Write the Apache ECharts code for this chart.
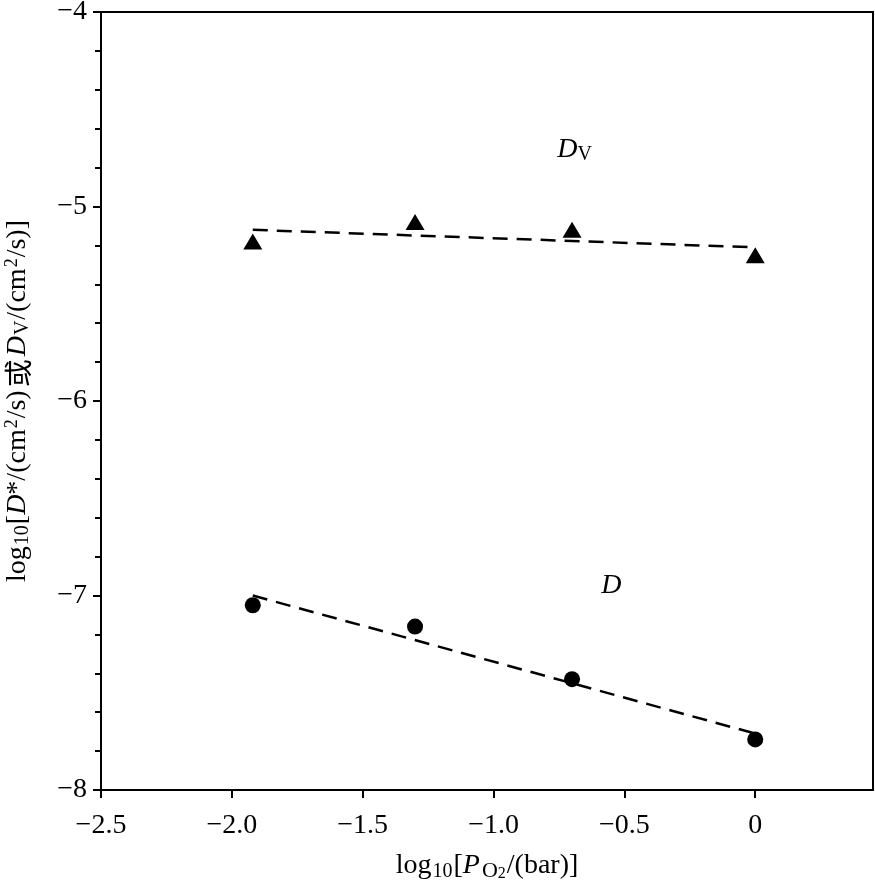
<!DOCTYPE html>
<html>
<head>
<meta charset="utf-8">
<script src="https://cdn.jsdelivr.net/npm/echarts@6/dist/echarts.min.js"></script>
<style>html,body{margin:0;padding:0;background:#fff}#c{width:875px;height:890px}</style>
</head>
<body>
<div id="c"></div>
<script>
// Data
const xTicks = [-2.5, -2.0, -1.5, -1.0, -0.5, 0];
const yTicks = [-8, -7, -6, -5, -4];
const dvX = [-1.92, -1.30, -0.70, 0.0];
const dvY = [-5.18, -5.08, -5.12, -5.25];
const dX = [-1.92, -1.30, -0.70, 0.0];
const dY = [-7.05, -7.16, -7.43, -7.74];
const dvFitX = [-1.92, 0.0];
const dvFitY = [-5.12, -5.21];
const dFitX = [-1.92, 0.0];
const dFitY = [-7.00, -7.71];
const annotX = [-0.69, -0.55];
const annotY = [-4.71, -6.95];
const annotText = ['{i|D}{sub|V}', '{i|D}'];

const FONT = '"Liberation Serif", "Times New Roman", serif';
const minus = s => s.replace('-', '\u2212');
const fmtX = v => minus(v === 0 ? '0' : v.toFixed(1));
const fmtY = v => minus(String(Math.round(v)));
const zip = (a, b) => a.map((v, i) => [v, b[i]]);

const richBase = {
  i: { fontFamily: FONT, fontStyle: 'italic', fontSize: 28, color: '#000' },
  sub: { fontFamily: FONT, fontSize: 20, color: '#000', verticalAlign: 'bottom', padding: [10, 1, 0, 1] },
  sup: { fontFamily: FONT, fontSize: 18, color: '#000', verticalAlign: 'top', padding: [0, 1, 8, 1] },
  cjk: { fontFamily: '"Noto Sans CJK SC", sans-serif', fontSize: 28, color: '#000', padding: [0, 3, 0, 3] }
};

const chart = echarts.init(document.getElementById('c'), null, { renderer: 'canvas' });
chart.setOption({
  animation: false,
  backgroundColor: '#fff',
  grid: { left: 101, right: 2, top: 12, bottom: 100, outerBoundsMode: 'none', containLabel: false, show: true, borderColor: '#000', borderWidth: 2, backgroundColor: 'transparent' },
  xAxis: {
    type: 'value', min: -2.5, max: 0.45, interval: 0.5,
    axisLine: { onZero: false, lineStyle: { color: '#000', width: 2 } },
    axisTick: { customValues: xTicks, length: 8, lineStyle: { color: '#000', width: 2 } },
    axisLabel: { customValues: xTicks, formatter: fmtX, fontFamily: FONT, fontSize: 28, color: '#000', margin: 22 },
    splitLine: { show: false },
    name: 'log{sub|10}[{i|P}{osub|O}{osub2|2}/(bar)]',
    nameLocation: 'middle', nameGap: 60,
    nameTextStyle: {
      fontFamily: FONT, fontSize: 28, color: '#000',
      rich: Object.assign({}, richBase, {
        osub: { fontFamily: FONT, fontSize: 22, color: '#000', verticalAlign: 'bottom', padding: [8, 0, 0, 2] },
        osub2: { fontFamily: FONT, fontSize: 16, color: '#000', verticalAlign: 'bottom', padding: [16, 1, 0, 0] }
      })
    }
  },
  yAxis: {
    type: 'value', min: -8, max: -4, interval: 1,
    axisLine: { onZero: false, lineStyle: { color: '#000', width: 2 } },
    axisTick: { length: 8, lineStyle: { color: '#000', width: 2 } },
    minorTick: { show: true, splitNumber: 5, length: 6, lineStyle: { color: '#000', width: 2 } },
    axisLabel: { formatter: fmtY, fontFamily: FONT, fontSize: 28, color: '#000', margin: 14 },
    splitLine: { show: false },
    name: 'log{sub|10}[{i|D}*/(cm{sup|2}/s){cjk|或}{i|D}{sub|V}/(cm{sup|2}/s)]',
    nameLocation: 'middle', nameGap: 68, nameRotate: 90,
    nameTextStyle: { fontFamily: FONT, fontSize: 28, color: '#000', rich: richBase }
  },
  series: [
    { type: 'line', data: zip(dvFitX, dvFitY), symbol: 'none', lineStyle: { color: '#000', width: 2.5, type: [15, 9] }, z: 2 },
    { type: 'line', data: zip(dFitX, dFitY), symbol: 'none', lineStyle: { color: '#000', width: 2.5, type: [15, 9] }, z: 2 },
    { type: 'scatter', data: zip(dvX, dvY), symbol: 'triangle', symbolSize: [19, 16], itemStyle: { color: '#000', opacity: 1 }, z: 3 },
    { type: 'scatter', data: zip(dX, dY), symbol: 'circle', symbolSize: 16, itemStyle: { color: '#000', opacity: 1 }, z: 3 },
    {
      type: 'scatter', data: zip(annotX, annotY), symbolSize: 0, silent: true,
      itemStyle: { opacity: 1 },
      label: {
        show: true, position: 'inside',
        formatter: p => annotText[p.dataIndex],
        fontFamily: FONT, fontSize: 28, color: '#000',
        rich: Object.assign({}, richBase, { sub: { fontFamily: FONT, fontSize: 20, color: '#000', verticalAlign: 'bottom', padding: [10, 0, 0, 0] } })
      }
    }
  ]
});
</script>
</body>
</html>
